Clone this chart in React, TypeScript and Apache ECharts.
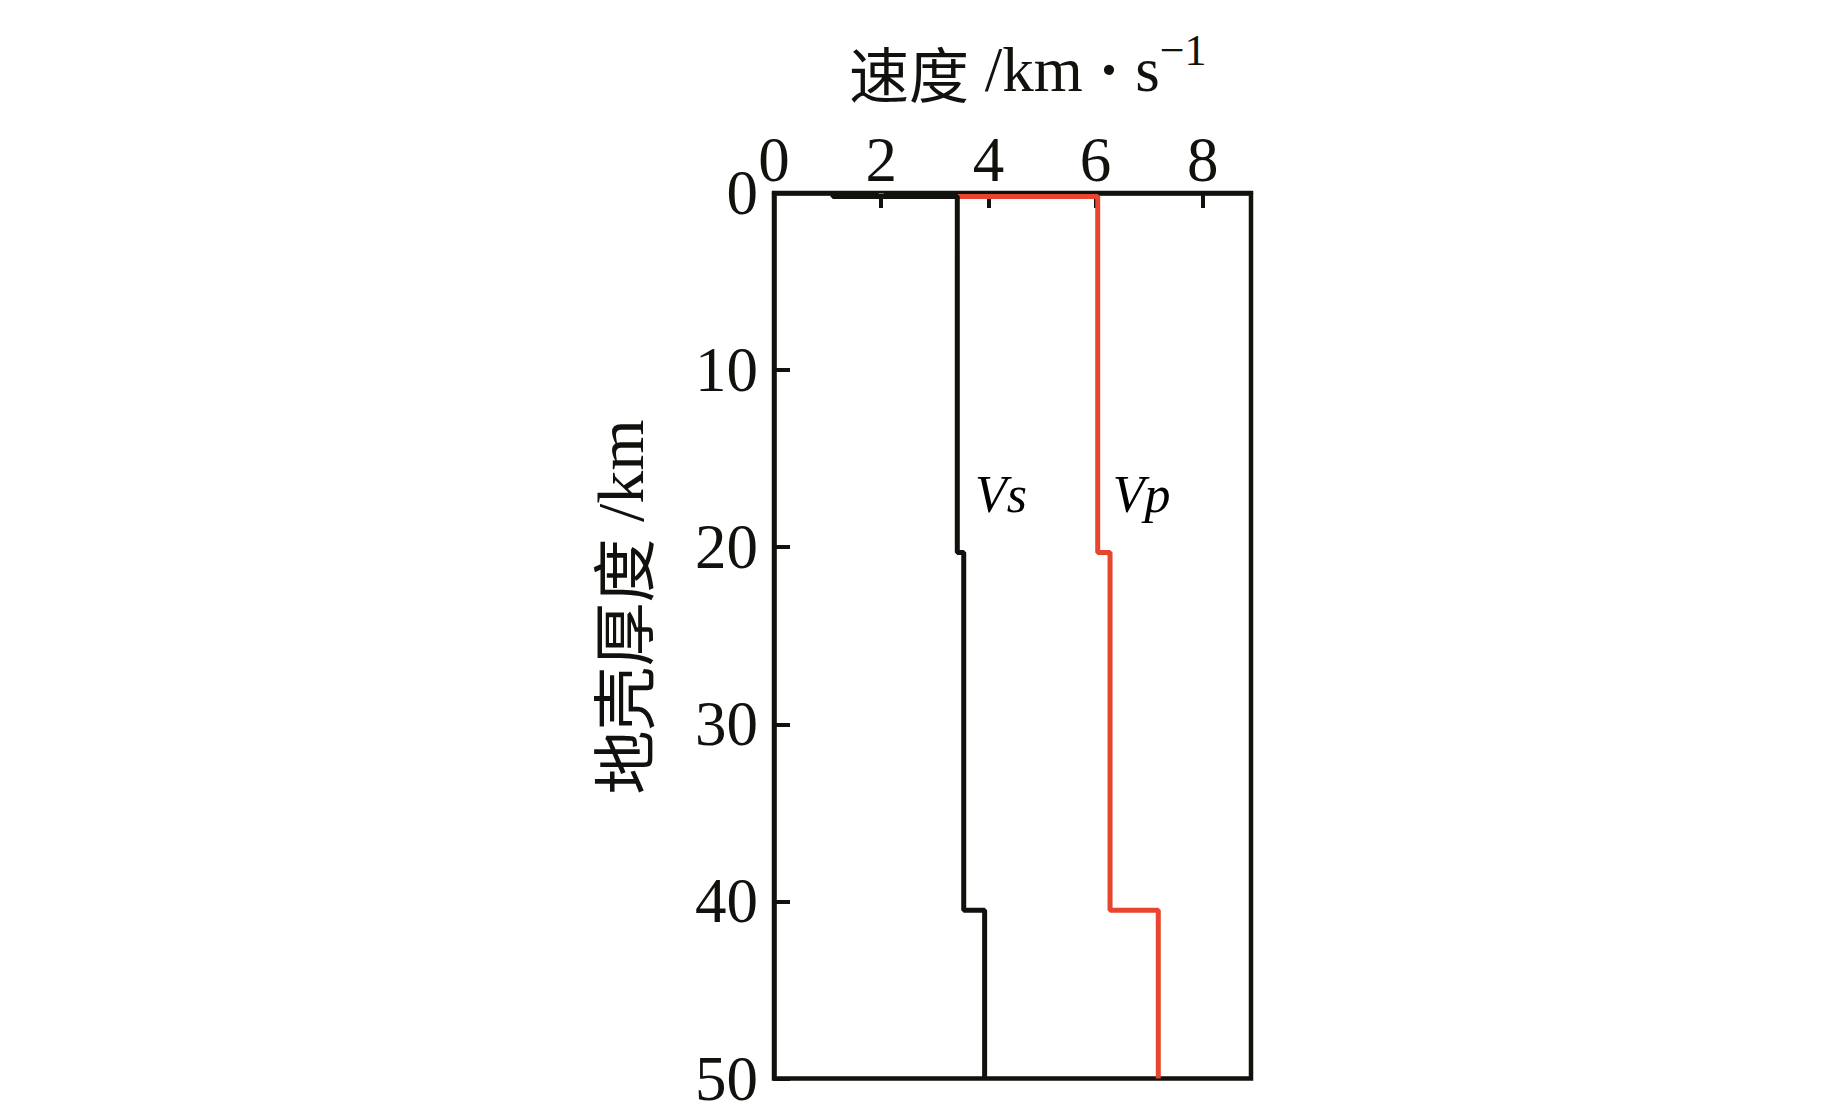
import React, { useEffect, useRef } from "react";
import * as echarts from "echarts";

// Layer boundaries (km) and velocities (km/s)
const depthBounds = [0, 0.2, 20.3, 40.5, 50];
const vsValues = [1.1, 3.42, 3.54, 3.93];
const vpValues = [2.0, 6.04, 6.27, 7.17];

const xTicks = [0, 2, 4, 6, 8];
const yTicks = [0, 10, 20, 30, 40, 50];

const curveLabels = [
  { name: "Vs", value: [3.75, 17] },
  { name: "Vp", value: [6.32, 17] },
];

const BLACK = "#11110d";
const RED = "#e8452f";
const SERIF = "'Liberation Serif', 'Times New Roman', 'Noto Sans CJK SC', serif";
const CJK = "'Noto Sans CJK SC', 'Liberation Serif', serif";

function stepProfile(v: number[]) {
  const pts: number[][] = [];
  for (let i = 0; i < v.length; i++) {
    pts.push([v[i], depthBounds[i]]);
    pts.push([v[i], depthBounds[i + 1]]);
  }
  return pts;
}

export default function App() {
  const ref = useRef<HTMLDivElement>(null);
  useEffect(() => {
    if (!ref.current) return;
    const chart = echarts.init(ref.current, undefined, { renderer: "svg" });
    chart.setOption({
      animation: false,
      backgroundColor: "#ffffff",
      grid: {
        left: 774,
        right: 592,
        top: 193,
        bottom: 29,
        show: true,
        borderColor: BLACK,
        borderWidth: 4.5,
        backgroundColor: "transparent",
      },
      xAxis: {
        type: "value",
        position: "top",
        min: 0,
        max: 8.9,
        interval: 2,
        splitLine: { show: false },
        axisLine: { show: true, lineStyle: { color: BLACK, width: 4.5 } },
        axisTick: { show: true, inside: true, length: 15, lineStyle: { color: BLACK, width: 4 } },
        axisLabel: {
          show: true,
          margin: 2,
          color: BLACK,
          fontFamily: SERIF,
          fontSize: 63,
          formatter: (v: number) => (xTicks.includes(v) ? String(v) : ""),
        },
      },
      yAxis: {
        type: "value",
        inverse: true,
        min: 0,
        max: 50,
        interval: 10,
        splitLine: { show: false },
        axisLine: { show: true, lineStyle: { color: BLACK, width: 4.5 } },
        axisTick: { show: true, inside: true, length: 16, lineStyle: { color: BLACK, width: 4 } },
        axisLabel: {
          show: true,
          margin: 16,
          color: BLACK,
          fontFamily: SERIF,
          fontSize: 63,
          lineHeight: 46,
          formatter: (v: number) => (yTicks.includes(v) ? String(v) : ""),
        },
      },
      graphic: [
        {
          type: "text",
          left: 849,
          top: 28,
          style: {
            text: "{c|速度}{a| /km}{d| · }{a|s}{s|−1}",
            rich: {
              c: { fontFamily: CJK, fontSize: 60, fill: BLACK, verticalAlign: "bottom" },
              a: { fontFamily: SERIF, fontSize: 63, fill: BLACK, verticalAlign: "bottom" },
              d: { fontFamily: SERIF, fontSize: 63, fill: BLACK, fontWeight: "bold", verticalAlign: "bottom" },
              s: { fontFamily: SERIF, fontSize: 44, fill: BLACK, verticalAlign: "top", padding: [0, 0, 30, 0] },
            },
          },
        },
        {
          type: "text",
          x: 620,
          y: 607,
          rotation: Math.PI / 2,
          style: {
            text: "{c|地壳厚度}{a| /km}",
            align: "center",
            verticalAlign: "middle",
            rich: {
              c: { fontFamily: CJK, fontSize: 64, fill: BLACK },
              a: { fontFamily: SERIF, fontSize: 66, fill: BLACK },
            },
          },
        },
      ],
      series: [
        {
          type: "line",
          name: "Vp",
          data: stepProfile(vpValues),
          showSymbol: false,
          symbol: "none",
          lineStyle: { color: RED, width: 5 },
          z: 2,
        },
        {
          type: "line",
          name: "Vs",
          data: stepProfile(vsValues),
          showSymbol: false,
          symbol: "none",
          lineStyle: { color: BLACK, width: 5 },
          z: 3,
        },
        {
          type: "scatter",
          symbolSize: 0,
          data: curveLabels,
          silent: true,
          itemStyle: { opacity: 1, color: "#000000" },
          label: {
            show: true,
            position: "right",
            distance: 0,
            formatter: "{b}",
            fontFamily: "'Liberation Serif', serif",
            fontStyle: "italic",
            fontSize: 52,
            color: "#000000",
            opacity: 1,
          },
          z: 4,
        },
      ],
    });
    return () => chart.dispose();
  }, []);
  return (
    <div
      ref={ref}
      style={{ position: "absolute", left: 0, top: 0, width: 1843, height: 1110 }}
    />
  );
}
